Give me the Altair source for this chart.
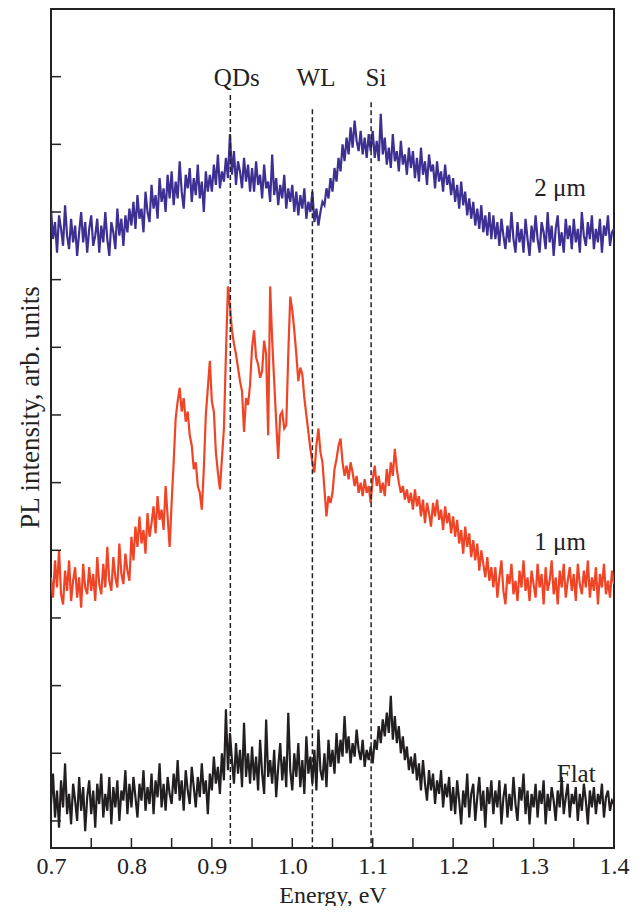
import altair as alt
import pandas as pd

# Energy grid (eV), 0.0025 eV sampling, 0.700 ... 1.400
energy = [round(0.7 + 0.0025 * i, 4) for i in range(281)]

# 2 um sample (blue), arb. units — one row per 0.05 eV
blue = [
    9.05, 8.60, 8.85, 8.40, 8.95, 8.75, 8.50, 9.10, 8.65, 8.45, 8.90, 8.55, 8.80, 8.35, 8.70, 9.00, 8.55, 8.85, 8.40, 8.75,
    8.95, 8.50, 8.65, 8.90, 8.40, 8.80, 8.55, 9.00, 8.60, 8.35, 8.85, 8.70, 8.45, 9.05, 8.65, 8.90, 8.50, 8.95, 8.70, 9.05,
    8.80, 9.15, 8.75, 9.25, 8.90, 9.05, 8.70, 9.30, 9.00, 8.85, 9.40, 9.05, 9.25, 8.90, 9.50, 9.15, 9.35, 9.00, 9.55, 9.20,
    9.60, 9.10, 9.45, 9.20, 9.75, 9.30, 9.05, 9.55, 9.35, 9.65, 9.15, 9.50, 9.25, 9.70, 9.20, 9.45, 9.00, 9.60, 9.30, 9.55,
    9.30, 9.70, 9.40, 9.85, 9.35, 9.60, 9.45, 9.80, 9.50, 10.15, 9.55, 9.90, 9.40, 9.75, 9.60, 9.35, 9.80, 9.45, 9.70, 9.30,
    9.65, 9.30, 9.75, 9.40, 9.55, 9.20, 9.70, 9.35, 9.45, 9.15, 9.85, 9.25, 9.50, 9.10, 9.40, 9.20, 9.55, 9.05, 9.35, 9.15,
    9.40, 9.00, 9.30, 8.95, 9.25, 9.05, 9.35, 8.90, 9.15, 9.00, 9.30, 8.85, 9.05, 8.80, 9.00, 9.15, 9.10, 9.35, 9.20, 9.50,
    9.30, 9.65, 9.45, 9.80, 9.60, 10.00, 9.75, 10.10, 9.85, 10.25, 9.95, 10.35, 10.05, 9.90, 10.20, 9.85, 10.10, 9.80, 10.15, 9.90,
    10.20, 9.80, 10.05, 9.75, 10.45, 9.85, 10.10, 9.70, 9.95, 9.65, 10.15, 9.75, 9.90, 9.60, 10.05, 9.70, 9.85, 9.55, 9.95, 9.65,
    9.90, 9.50, 9.80, 9.45, 9.95, 9.55, 9.75, 9.40, 9.85, 9.60, 9.70, 9.35, 9.75, 9.45, 9.60, 9.30, 9.70, 9.40, 9.55, 9.25,
    9.50, 9.15, 9.40, 9.05, 9.45, 9.10, 9.30, 8.95, 9.20, 8.90, 9.15, 8.80, 9.05, 8.75, 9.10, 8.70, 8.95, 8.65, 9.00, 8.60,
    8.95, 8.60, 8.85, 8.50, 8.90, 8.65, 8.45, 8.80, 8.55, 9.00, 8.60, 8.40, 8.85, 8.55, 8.75, 8.40, 8.90, 8.60, 8.35, 8.80,
    8.55, 8.95, 8.60, 8.40, 8.85, 8.70, 8.45, 9.00, 8.55, 8.80, 8.35, 8.75, 8.95, 8.50, 8.70, 8.40, 8.90, 8.60, 8.80, 8.45,
    8.90, 8.55, 8.75, 8.40, 9.00, 8.65, 8.50, 8.85, 8.60, 8.95, 8.45, 8.75, 8.55, 8.90, 8.40, 8.80, 8.65, 8.95, 8.50, 8.70,
    8.75,
]

# 1 um sample (red)
red = [
    3.60, 3.30, 3.85, 3.45, 4.00, 3.35, 3.20, 3.70, 3.40, 3.85, 3.25, 3.55, 3.75, 3.30, 3.60, 3.15, 3.80, 3.45, 3.35, 3.75,
    3.40, 3.65, 3.25, 3.90, 3.50, 3.35, 3.80, 3.45, 4.05, 3.55, 3.40, 3.90, 3.60, 3.45, 4.10, 3.65, 3.50, 3.95, 3.70, 3.55,
    4.20, 3.85, 4.35, 4.05, 4.50, 4.10, 4.30, 3.95, 4.55, 4.20, 4.40, 4.65, 4.25, 4.80, 4.45, 4.60, 4.30, 4.95, 4.50, 4.05,
    4.70, 5.30, 5.95, 6.20, 6.40, 6.05, 6.25, 5.90, 6.05, 5.70, 5.55, 5.20, 5.30, 4.95, 4.85, 4.60, 5.20, 6.00, 6.40, 6.80,
    6.20, 6.05, 5.45, 5.15, 4.90, 5.35, 5.80, 6.90, 7.90, 7.60, 7.25, 7.05, 6.90, 6.70, 6.50, 6.35, 5.75, 6.25, 6.15, 6.45,
    7.00, 7.25, 6.85, 6.75, 6.55, 6.65, 7.10, 6.90, 5.70, 7.90, 7.10, 6.50, 5.90, 5.35, 6.00, 6.05, 5.80, 5.85, 6.90, 7.75,
    7.55, 7.25, 6.90, 6.50, 6.70, 6.60, 6.25, 6.00, 5.75, 5.50, 5.30, 5.15, 5.55, 5.80, 5.45, 5.30, 4.90, 4.50, 4.80, 4.70,
    4.85, 5.20, 5.35, 5.55, 5.65, 5.30, 5.10, 5.25, 5.05, 5.30, 5.15, 4.95, 5.10, 4.85, 5.00, 4.80, 5.05, 4.85, 4.95, 4.70,
    5.05, 5.25, 4.95, 5.10, 4.85, 5.00, 4.80, 5.20, 4.95, 5.30, 5.10, 5.50, 5.20, 5.00, 4.85, 4.95, 4.75, 4.90, 4.70, 4.85,
    4.60, 4.90, 4.65, 4.80, 4.50, 4.75, 4.40, 4.70, 4.55, 4.35, 4.70, 4.50, 4.75, 4.45, 4.60, 4.30, 4.65, 4.40, 4.55, 4.25,
    4.50, 4.20, 4.45, 4.10, 4.30, 3.95, 4.35, 4.05, 4.25, 3.90, 4.15, 3.85, 4.10, 3.70, 4.00, 3.80, 3.60, 3.90, 3.55, 3.75,
    3.45, 3.75, 3.30, 3.60, 3.85, 3.40, 3.20, 3.65, 3.50, 3.80, 3.35, 3.55, 3.25, 3.70, 3.45, 3.85, 3.40, 3.60, 3.25, 3.70,
    3.50, 3.30, 3.80, 3.45, 3.65, 3.20, 3.75, 3.40, 3.55, 3.85, 3.35, 3.60, 3.20, 3.70, 3.45, 3.80, 3.30, 3.55, 3.75, 3.40,
    3.65, 3.25, 3.80, 3.50, 3.35, 3.70, 3.45, 3.85, 3.30, 3.60, 3.40, 3.75, 3.20, 3.65, 3.45, 3.80, 3.35, 3.55, 3.30, 3.70,
    3.50,
]

# Flat sample (black)
black = [
    0.25, 0.70, 0.05, 0.45, -0.10, 0.60, 0.20, 0.85, 0.10, 0.40, -0.05, 0.55, 0.30, 0.00, 0.65, 0.15, 0.50, -0.15, 0.35, 0.60,
    0.10, 0.45, -0.10, 0.55, 0.25, 0.70, 0.05, 0.40, 0.15, 0.65, -0.05, 0.50, 0.20, 0.60, 0.00, 0.45, 0.30, 0.75, 0.10, 0.55,
    0.20, 0.65, 0.35, 0.05, 0.55, 0.30, 0.75, 0.15, 0.50, 0.25, 0.70, 0.10, 0.60, 0.35, 0.85, 0.20, 0.55, 0.15, 0.65, 0.40,
    0.25, 0.70, 0.40, 0.90, 0.30, 0.60, 0.15, 0.75, 0.45, 0.25, 0.80, 0.50, 0.20, 0.65, 0.35, 0.85, 0.40, 0.60, 0.10, 0.70,
    0.45, 0.95, 0.55, 0.80, 0.40, 1.00, 0.60, 1.65, 0.75, 1.30, 0.90, 0.55, 1.15, 0.70, 1.05, 0.50, 1.45, 0.65, 1.00, 0.55,
    1.10, 0.60, 0.95, 0.45, 1.20, 0.70, 0.40, 1.50, 0.65, 0.90, 0.55, 1.05, 0.35, 0.80, 1.15, 0.60, 0.95, 0.50, 1.60, 0.75,
    0.45, 1.00, 0.65, 1.15, 0.50, 0.90, 0.40, 1.25, 0.70, 0.95, 0.55, 1.05, 0.45, 1.35, 0.75, 0.60, 1.00, 0.50, 1.20, 0.80,
    1.05, 0.70, 1.30, 0.85, 1.20, 0.95, 1.55, 1.00, 1.25, 0.85, 1.15, 0.95, 1.35, 1.05, 0.90, 1.20, 0.80, 1.05, 0.90, 1.10,
    0.85, 1.20, 1.05, 1.40, 1.15, 1.50, 1.25, 1.60, 1.30, 1.85, 1.20, 1.55, 1.15, 1.40, 1.00, 1.25, 0.90, 1.10, 0.75, 0.95,
    0.70, 1.00, 0.60, 0.85, 0.45, 0.90, 0.55, 0.30, 0.75, 0.45, 0.70, 0.25, 0.60, 0.40, 0.75, 0.20, 0.55, 0.35, 0.65, 0.15,
    0.50, 0.10, 0.60, 0.30, -0.05, 0.45, 0.20, 0.70, 0.05, 0.40, 0.55, 0.00, 0.35, 0.65, 0.15, 0.45, -0.10, 0.50, 0.25, 0.60,
    0.10, 0.45, 0.20, 0.60, -0.05, 0.35, 0.55, 0.05, 0.40, 0.15, 0.65, 0.25, 0.00, 0.50, 0.30, 0.70, 0.10, 0.45, -0.05, 0.40,
    0.20, 0.55, 0.05, 0.45, 0.25, 0.60, -0.05, 0.40, 0.15, 0.50, 0.30, 0.00, 0.45, 0.20, 0.65, 0.10, 0.35, 0.55, 0.05, 0.40,
    0.25, 0.50, 0.00, 0.40, 0.15, 0.55, 0.30, -0.05, 0.45, 0.20, 0.50, 0.10, 0.40, 0.25, 0.55, 0.05, 0.35, 0.45, 0.15, 0.30,
    0.25,
]

series_names = ["2 μm", "1 μm", "Flat"]
series_colors = ["#3c3192", "#f04426", "#231f20"]

# Reference lines
ref_labels = ["QDs", "WL", "Si"]
ref_energy = [0.923, 1.025, 1.098]
ref_top = [10.73, 10.52, 10.62]
ref_label_energy = [0.931, 1.0295, 1.104]
ref_label_y = [10.86, 10.86, 10.86]

# Series labels
lab_energy = [1.333, 1.333, 1.353]
lab_y = [9.23, 4.01, 0.58]

x_ticks = [0.7, 0.8, 0.9, 1.0, 1.1, 1.2, 1.3, 1.4]
x_minor = [0.75, 0.8, 0.85, 0.9, 0.95, 1.0, 1.05, 1.1, 1.15, 1.2, 1.25, 1.3, 1.35]
y_ticks = [0, 1, 2, 3, 4, 5, 6, 7, 8, 9, 10, 11]

Y_MIN, Y_MAX = -0.4, 12.0
FONT = "Liberation Serif"
INK = "#222222"

rows = []
for name, vals in zip(series_names, [blue, red, black]):
    for e, v in zip(energy, vals):
        rows.append({"s": name, "E": e, "I": v})
df = pd.DataFrame(rows)

xscale = alt.Scale(domain=[0.7, 1.4], nice=False, zero=False)
yscale = alt.Scale(domain=[Y_MIN, Y_MAX], nice=False, zero=False)

xaxis = alt.Axis(values=x_ticks, format=".1f", labelFont=FONT, labelFontSize=24,
                 labelColor=INK, ticks=False, tickSize=0, domain=False, grid=False,
                 labelPadding=6, labelFlush=False, labelOverlap=False,
                 title="Energy, eV", titleFont=FONT, titleFontSize=24,
                 titleFontWeight="normal", titleColor=INK,
                 titleBaseline="alphabetic", titleY=54)
yaxis = alt.Axis(labels=False, ticks=False, domain=False, grid=False,
                 title="PL intensity, arb. units", titleFont=FONT, titleFontSize=27,
                 titleFontWeight="normal", titleColor=INK, titlePadding=7, titleY=398)

X = alt.X("E:Q", scale=xscale, axis=xaxis)
Y = alt.Y("I:Q", scale=yscale, axis=yaxis)

lines = alt.Chart(df).mark_line(strokeWidth=2.2, clip=True).encode(
    x=X, y=Y,
    color=alt.Color("s:N", scale=alt.Scale(domain=series_names, range=series_colors), legend=None),
    detail="s:N",
)

ref_df = pd.DataFrame({"E": ref_energy, "I": ref_top, "I2": [Y_MIN] * 3})
ref_rules = alt.Chart(ref_df).mark_rule(color=INK, strokeWidth=1.5, strokeDash=[5, 3]).encode(
    x=X, y=Y, y2="I2:Q")

ref_txt_df = pd.DataFrame({"E": ref_label_energy, "I": ref_label_y, "t": ref_labels})
ref_txt = alt.Chart(ref_txt_df).mark_text(font=FONT, fontSize=25, color=INK, align="center",
                                          baseline="alphabetic").encode(x=X, y=Y, text="t:N")

lab_df = pd.DataFrame({"E": lab_energy, "I": lab_y, "t": series_names})
lab_txt = alt.Chart(lab_df).mark_text(font=FONT, fontSize=25, color=INK, align="center",
                                      baseline="alphabetic").encode(x=X, y=Y, text="t:N")

ytick_df = pd.DataFrame({"I": y_ticks})
ytick = alt.Chart(ytick_df).mark_rule(color=INK, strokeWidth=1.5).encode(
    y=Y, x=alt.value(0), x2=alt.value(10))

xtick_df = pd.DataFrame({"E": x_minor})
xtick = alt.Chart(xtick_df).mark_rule(color=INK, strokeWidth=1.5).encode(
    x=X, y=alt.value(839), y2=alt.value(829))

chart = alt.layer(lines, ref_rules, ref_txt, lab_txt, ytick, xtick).properties(
    width=563, height=839,
    autosize=alt.AutoSizeParams(type="none"),
    padding={"left": 43, "top": 1, "right": 18, "bottom": 58},
    background="white",
).configure_view(stroke=INK, strokeWidth=2)

chart.save("out.html", embed_options={"renderer": "svg", "actions": False})
